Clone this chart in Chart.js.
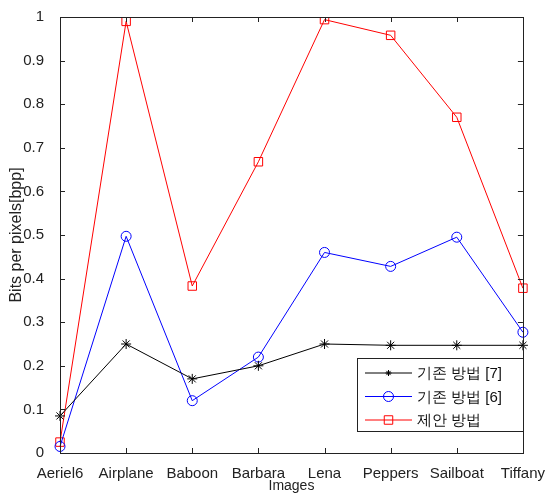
<!DOCTYPE html>
<html>
<head>
<meta charset="utf-8">
<script src="https://cdn.jsdelivr.net/npm/chart.js@4/dist/chart.umd.min.js"></script>
<style>
  html, body { margin: 0; padding: 0; background: #fff; }
  #wrap { width: 549px; height: 497px; }
</style>
</head>
<body>
<div id="wrap"><canvas id="bppChart" width="549" height="497"></canvas></div>
<script>
const images = ['Aeriel6', 'Airplane', 'Baboon', 'Barbara', 'Lena', 'Peppers', 'Sailboat', 'Tiffany'];
const method7 = [0.085, 0.25, 0.17, 0.2, 0.25, 0.247, 0.247, 0.247];
const method6 = [0.015, 0.497, 0.12, 0.22, 0.46, 0.428, 0.495, 0.277];
const proposed = [0.025, 0.99, 0.383, 0.668, 0.994, 0.958, 0.77, 0.378];
const yTicks = [0, 0.1, 0.2, 0.3, 0.4, 0.5, 0.6, 0.7, 0.8, 0.9, 1];

const FONT = 'Arial, "Liberation Sans", sans-serif';

// frame box with inward ticks, matlab style
const framePlugin = {
    id: 'frame',
    afterDraw(chart) {
        const ctx = chart.ctx;
        const a = chart.chartArea;
        const xs = chart.scales.x, ys = chart.scales.y;
        ctx.save();
        ctx.strokeStyle = '#222';
        ctx.lineWidth = 1;
        ctx.strokeRect(Math.round(a.left) + 0.5, Math.round(a.top) + 0.5,
            Math.round(a.right - a.left), Math.round(a.bottom - a.top));
        ctx.beginPath();
        images.forEach((_, i) => {
            const x = Math.round(xs.getPixelForValue(i)) + 0.5;
            ctx.moveTo(x, a.bottom); ctx.lineTo(x, a.bottom - 5);
            ctx.moveTo(x, a.top); ctx.lineTo(x, a.top + 5);
        });
        yTicks.forEach(v => {
            const y = Math.round(ys.getPixelForValue(v)) + 0.5;
            ctx.moveTo(a.left, y); ctx.lineTo(a.left + 5, y);
            ctx.moveTo(a.right, y); ctx.lineTo(a.right - 5, y);
        });
        ctx.stroke();
        ctx.restore();
    }
};

// legend box inside lower right of the plot
const legendPlugin = {
    id: 'boxLegend',
    afterDraw(chart) {
        const ctx = chart.ctx;
        const bx = 357, by = 358, bw = 166, bh = 73;
        ctx.save();
        ctx.fillStyle = '#fff';
        ctx.fillRect(bx, by, bw, bh);
        ctx.strokeStyle = '#222';
        ctx.lineWidth = 1;
        ctx.strokeRect(bx + 0.5, by + 0.5, bw, bh);
        chart.data.datasets.forEach((ds, i) => {
            const y = by + 15 + i * 23.5;
            ctx.strokeStyle = ds.borderColor;
            ctx.lineWidth = 1;
            ctx.beginPath();
            ctx.moveTo(365, y); ctx.lineTo(412, y);
            ctx.stroke();
            ctx.fillStyle = 'rgba(0,0,0,0)';
            Chart.helpers.drawPoint(ctx, {
                pointStyle: ds.pointStyle,
                radius: ds.pointStyle === 'star' ? 3 : ds.pointRadius,
                rotation: 0,
                borderWidth: 1
            }, 388.5, y);
            ctx.fillStyle = '#111';
            ctx.font = '15px ' + FONT;
            ctx.textBaseline = 'middle';
            ctx.fillText(ds.label, 417, y + 1);
        });
        ctx.restore();
    }
};

const ctx = document.getElementById('bppChart').getContext('2d');
new Chart(ctx, {
    type: 'line',
    data: {
        labels: images,
        datasets: [{
            label: '기존 방법 [7]',
            data: method7,
            borderColor: '#000',
            backgroundColor: 'rgba(0,0,0,0)',
            pointStyle: 'star',
            pointRadius: 5,
            pointBorderWidth: 1,
            borderWidth: 1,
            tension: 0
        }, {
            label: '기존 방법 [6]',
            data: method6,
            borderColor: '#0000ff',
            backgroundColor: 'rgba(0,0,0,0)',
            pointStyle: 'circle',
            pointRadius: 5,
            pointBorderWidth: 1,
            borderWidth: 1,
            tension: 0
        }, {
            label: '제안 방법',
            data: proposed,
            borderColor: '#ff0000',
            backgroundColor: 'rgba(0,0,0,0)',
            pointStyle: 'rect',
            pointRadius: 6,
            pointBorderWidth: 1,
            borderWidth: 1,
            tension: 0
        }]
    },
    options: {
        responsive: false,
        animation: false,
        layout: { padding: { left: 0, top: 13, right: 22, bottom: 0 } },
        plugins: {
            legend: { display: false },
            tooltip: { enabled: false }
        },
        scales: {
            x: {
                offset: false,
                grid: { display: false },
                border: { display: false },
                ticks: { color: '#222', font: { family: FONT, size: 15 }, padding: 4, maxRotation: 0, autoSkip: false },
                title: { display: true, text: 'Images', color: '#222', font: { family: FONT, size: 14 }, padding: { top: 0, bottom: 2 } },
                afterFit(scale) { scale.height = 44; }
            },
            y: {
                min: 0,
                max: 1,
                grid: { display: false },
                border: { display: false },
                ticks: {
                    stepSize: 0.1,
                    color: '#222',
                    font: { family: FONT, size: 15 },
                    padding: 8,
                    callback: v => Math.round(v * 10) / 10
                },
                title: { display: true, text: 'Bits per pixels[bpp]', color: '#222', font: { family: FONT, size: 16 }, padding: { top: 7, bottom: 0 } },
                afterFit(scale) { scale.width = 60; }
            }
        }
    },
    plugins: [framePlugin, legendPlugin]
});
</script>
</body>
</html>
